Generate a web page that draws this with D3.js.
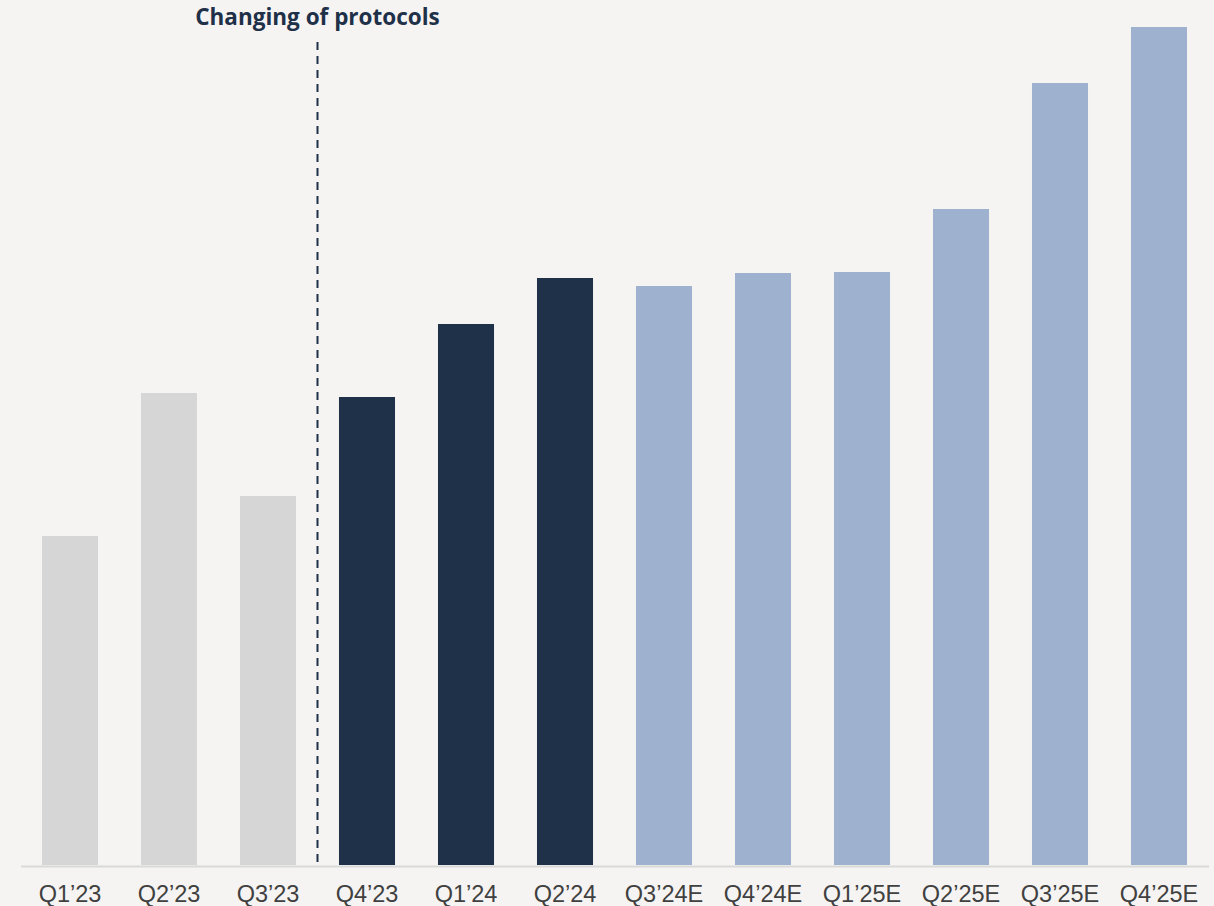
<!DOCTYPE html>
<html>
<head>
<meta charset="utf-8">
<script src="https://cdn.jsdelivr.net/npm/d3@7"></script>
<style>
  html, body { margin: 0; padding: 0; background: #f5f4f2; }
  svg { display: block; }
</style>
</head>
<body>
<script>
// quarters and bar values (arbitrary units)
var quarters = ["Q1\u201923", "Q2\u201923", "Q3\u201923", "Q4\u201923", "Q1\u201924", "Q2\u201924",
                "Q3\u201924E", "Q4\u201924E", "Q1\u201925E", "Q2\u201925E", "Q3\u201925E", "Q4\u201925E"];
var values = [329, 472, 369, 468, 541, 587, 579, 592, 593, 656, 782, 838];
// 0 = old protocol, 1 = actual, 2 = estimate
var groups = [0, 0, 0, 1, 1, 1, 2, 2, 2, 2, 2, 2];
var annotation = "Changing of protocols";

const width = 1214;
const height = 906;
const baseline = 865;

const colours = ['#d6d6d6', '#1f3049', '#9eb1ce'];

const data = quarters.map((q, i) => ({ q: q, v: values[i], g: groups[i] }));

const xScale = d3.scaleBand()
    .domain(quarters)
    .range([20.5, 1208.5])
    .paddingInner(0.434)
    .paddingOuter(0.217);

const yScale = d3.scaleLinear()
    .domain([0, 838])
    .range([baseline, 27]);

let svg = d3.select('body')
    .append('svg')
    .attr('width', width)
    .attr('height', height);

svg.append('rect')
    .attr('width', width)
    .attr('height', height)
    .attr('fill', '#f5f4f2');

// bars
svg.selectAll('rect.bar')
    .data(data)
    .enter()
    .append('rect')
        .attr('class', 'bar')
        .attr('x', d => xScale(d.q))
        .attr('y', d => yScale(d.v))
        .attr('width', xScale.bandwidth())
        .attr('height', d => yScale(0) - yScale(d.v))
        .attr('fill', d => colours[d.g]);

// x-axis
let xAxis = svg.append('g')
    .attr('transform', `translate(0, ${baseline + 1})`)
    .call(d3.axisBottom(xScale).tickSize(0).tickPadding(19));

xAxis.select('.domain')
    .attr('stroke', '#d9d9d9')
    .attr('stroke-width', 2);

xAxis.selectAll('text')
    .attr('font-family', '"Liberation Sans", Arial, sans-serif')
    .attr('font-size', 23.5)
    .attr('fill', '#404040');

// dashed divider between Q3'23 and Q4'23
const divX = (xScale(quarters[2]) + xScale.bandwidth() + xScale(quarters[3])) / 2;

svg.append('line')
    .attr('x1', divX)
    .attr('x2', divX)
    .attr('y1', 42)
    .attr('y2', 862)
    .attr('stroke', '#1f3049')
    .attr('stroke-width', 2)
    .attr('stroke-dasharray', '8 6');

svg.append('text')
    .attr('x', divX)
    .attr('y', 25)
    .attr('text-anchor', 'middle')
    .attr('font-family', '"Open Sans", sans-serif')
    .attr('font-weight', 'bold')
    .attr('font-size', 22.5)
    .attr('fill', '#1f3049')
    .text(annotation);
</script>
</body>
</html>
